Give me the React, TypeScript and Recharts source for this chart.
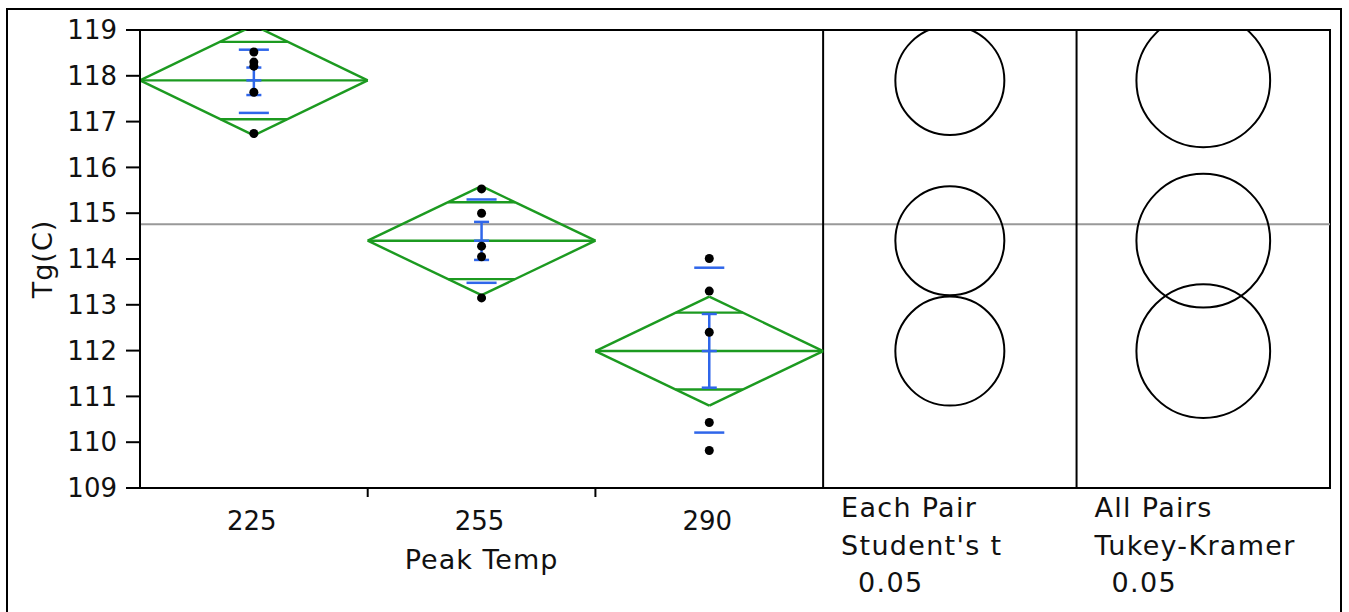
import React from 'react';
import {
  ComposedChart,
  XAxis,
  YAxis,
  Scatter,
  ReferenceLine,
  ReferenceDot,
  ReferenceArea,
  Label,
} from 'recharts';

// groups of Peak Temp
const GROUPS = ['225', '255', '290'];

// raw Tg(C) observations per group
const PTS_225 = [118.52, 118.3, 118.21, 117.64, 116.74];
const PTS_255 = [115.53, 115.0, 114.28, 114.05, 113.15];
const PTS_290 = [114.01, 113.3, 112.4, 110.43, 109.82];

// means diamonds (mean, 95% CI, overlap marks)
const MEANS = [117.9, 114.4, 111.99];
const CI_LOW = [116.7, 113.21, 110.8];
const CI_HIGH = [119.1, 115.59, 113.18];
const OVERLAP_LOW = [117.05, 113.56, 111.15];
const OVERLAP_HIGH = [118.74, 115.24, 112.83];

// std dev lines and std error bars
const SD_LOW = [117.19, 113.48, 110.21];
const SD_HIGH = [118.57, 115.3, 113.81];
const SE_LOW = [117.58, 113.98, 111.19];
const SE_HIGH = [118.18, 114.81, 112.8];

const GRAND_MEAN = 114.76;
const Y_TICKS = [109, 110, 111, 112, 113, 114, 115, 116, 117, 118, 119];

// comparison circles radius (in Tg units)
const STUDENT_RADIUS = 1.19;
const TUKEY_RADIUS = 1.46;

const PANEL_TITLES = ['Each Pair', 'All Pairs'];
const PANEL_TESTS = ["Student's t", 'Tukey-Kramer'];
const ALPHA = '0.05';
const X_LABEL = 'Peak Temp';
const Y_LABEL = 'Tg(C)';

// layout
const W = 1349;
const H = 612;
const M_TOP = 30;
const M_RIGHT = 19;
const Y_AXIS_W = 140;
const X_AXIS_H = 124;
const Y_MIN = 109;
const Y_MAX = 119;
const PX_PER_UNIT = (H - M_TOP - X_AXIS_H) / (Y_MAX - Y_MIN);

const PANEL_SPAN = 1.113;
const N_GROUPS = GROUPS.length;
const X_MAX = N_GROUPS + 2 * PANEL_SPAN;
const CENTER_TICKS = GROUPS.map((_, i) => i + 0.5);
const BOUNDARY_TICKS = GROUPS.slice(1).map((_, i) => i + 1);
const PANEL_TICKS = [N_GROUPS, N_GROUPS + PANEL_SPAN];

const GREEN = '#1c9a20';
const BLUE = '#2f66ea';
const FONT = '"DejaVu Sans", sans-serif';

type Pt = { x: number; y: number };

const dots = [PTS_225, PTS_255, PTS_290].flatMap((arr, i) =>
  arr.map(y => ({ x: i + 0.5, y }))
);

// green diamond segments
const greenSegs: Pt[][] = MEANS.flatMap((m, i) => {
  const l = i;
  const r = i + 1;
  const c = i + 0.5;
  const hwTop = 0.5 * (1 - (OVERLAP_HIGH[i] - m) / (CI_HIGH[i] - m));
  const hwBot = 0.5 * (1 - (m - OVERLAP_LOW[i]) / (m - CI_LOW[i]));
  return [
    [{ x: l, y: m }, { x: c, y: CI_HIGH[i] }],
    [{ x: c, y: CI_HIGH[i] }, { x: r, y: m }],
    [{ x: r, y: m }, { x: c, y: CI_LOW[i] }],
    [{ x: c, y: CI_LOW[i] }, { x: l, y: m }],
    [{ x: l, y: m }, { x: r, y: m }],
    [{ x: c - hwTop, y: OVERLAP_HIGH[i] }, { x: c + hwTop, y: OVERLAP_HIGH[i] }],
    [{ x: c - hwBot, y: OVERLAP_LOW[i] }, { x: c + hwBot, y: OVERLAP_LOW[i] }],
  ];
});

// blue std dev lines + error bars
const SD_HW = 0.066;
const CAP_HW = 0.033;
const blueSegs: Pt[][] = MEANS.flatMap((m, i) => {
  const c = i + 0.5;
  return [
    [{ x: c - SD_HW, y: SD_HIGH[i] }, { x: c + SD_HW, y: SD_HIGH[i] }],
    [{ x: c - SD_HW, y: SD_LOW[i] }, { x: c + SD_HW, y: SD_LOW[i] }],
    [{ x: c, y: SE_LOW[i] }, { x: c, y: SE_HIGH[i] }],
    [{ x: c - CAP_HW, y: SE_HIGH[i] }, { x: c + CAP_HW, y: SE_HIGH[i] }],
    [{ x: c - CAP_HW, y: SE_LOW[i] }, { x: c + CAP_HW, y: SE_LOW[i] }],
    [{ x: c - CAP_HW, y: m }, { x: c + CAP_HW, y: m }],
  ];
});

const AxisTick = (props: any) => {
  const { x, y, payload } = props;
  const v = payload.value;
  const gi = CENTER_TICKS.indexOf(v);
  if (gi >= 0) {
    return (
      <g>
        <text x={x - 2} y={y + 42} textAnchor="middle" fontSize={26} fontFamily={FONT} fill="#111">
          {GROUPS[gi]}
        </text>
        {gi === 1 && (
          <text x={x} y={y + 81} textAnchor="middle" fontSize={27} letterSpacing={1} fontFamily={FONT} fill="#111">
            {X_LABEL}
          </text>
        )}
      </g>
    );
  }
  if (BOUNDARY_TICKS.indexOf(v) >= 0) {
    return <line x1={x} x2={x} y1={y} y2={y + 9} stroke="#000" strokeWidth={2} />;
  }
  const pi = PANEL_TICKS.indexOf(v);
  if (pi >= 0) {
    return (
      <g fontFamily={FONT} fontSize={27} fill="#111" letterSpacing={1.3}>
        <text x={x + 18} y={y + 29}>{PANEL_TITLES[pi]}</text>
        <text x={x + 18} y={y + 67}>{PANEL_TESTS[pi]}</text>
        <text x={x + 35} y={y + 104}>{ALPHA}</text>
      </g>
    );
  }
  return <g />;
};

const App: React.FC = () => {
  return (
    <div style={{ position: 'relative', width: W, height: H, overflow: 'hidden', background: '#fff' }}>
      <style>{'body{margin:0}'}</style>
      <div
        style={{
          position: 'absolute',
          left: 6,
          top: 8,
          width: 1336,
          height: 700,
          border: '2px solid #000',
          boxSizing: 'border-box',
        }}
      />
      <div style={{ position: 'absolute', left: 0, top: 0 }}>
        <ComposedChart
          width={W}
          height={H}
          margin={{ top: M_TOP, right: M_RIGHT, bottom: 0, left: 0 }}
        >
          <XAxis
            type="number"
            dataKey="x"
            domain={[0, X_MAX]}
            allowDataOverflow
            ticks={[...CENTER_TICKS, ...BOUNDARY_TICKS, ...PANEL_TICKS]}
            interval={0}
            tick={<AxisTick />}
            tickLine={false}
            axisLine={false}
            tickSize={0}
            tickMargin={0}
            height={X_AXIS_H}
          />
          <YAxis
            type="number"
            dataKey="y"
            domain={[Y_MIN, Y_MAX]}
            allowDataOverflow
            ticks={Y_TICKS}
            interval={0}
            width={Y_AXIS_W}
            tickSize={14}
            tickMargin={9}
            axisLine={{ stroke: '#000', strokeWidth: 2 }}
            tickLine={{ stroke: '#000', strokeWidth: 2 }}
            tick={{ fontSize: 26, fontFamily: FONT, fill: '#111' }}
          >
            <Label
              value={Y_LABEL}
              angle={-90}
              position="insideLeft"
              offset={42}
              style={{ textAnchor: 'middle', fontSize: 27, fontFamily: FONT, fill: '#111', letterSpacing: 1 }}
            />
          </YAxis>

          <ReferenceArea
            x1={0}
            x2={X_MAX}
            y1={Y_MIN}
            y2={Y_MAX}
            fill="none"
            stroke="#000"
            strokeWidth={2}
            ifOverflow="visible"
          />
          <ReferenceLine y={GRAND_MEAN} stroke="#999" strokeWidth={2} />
          {PANEL_TICKS.map(v => (
            <ReferenceLine key={`p${v}`} x={v} stroke="#000" strokeWidth={2} />
          ))}

          {MEANS.map((m, i) => (
            <ReferenceDot
              key={`s${i}`}
              x={N_GROUPS + PANEL_SPAN / 2}
              y={m}
              r={STUDENT_RADIUS * PX_PER_UNIT}
              fill="none"
              stroke="#000"
              strokeWidth={2}
              ifOverflow="hidden"
            />
          ))}
          {MEANS.map((m, i) => (
            <ReferenceDot
              key={`t${i}`}
              x={N_GROUPS + PANEL_SPAN * 1.5}
              y={m}
              r={TUKEY_RADIUS * PX_PER_UNIT}
              fill="none"
              stroke="#000"
              strokeWidth={2}
              ifOverflow="hidden"
            />
          ))}

          {greenSegs.map((seg, i) => (
            <ReferenceLine key={`g${i}`} segment={seg} stroke={GREEN} strokeWidth={2.4} ifOverflow="hidden" />
          ))}
          {blueSegs.map((seg, i) => (
            <ReferenceLine key={`b${i}`} segment={seg} stroke={BLUE} strokeWidth={2.5} ifOverflow="hidden" />
          ))}

          <Scatter
            data={dots}
            isAnimationActive={false}
            shape={(p: any) => <circle cx={p.cx} cy={p.cy} r={4.5} fill="#000" />}
          />
        </ComposedChart>
      </div>
    </div>
  );
};

export default App;
